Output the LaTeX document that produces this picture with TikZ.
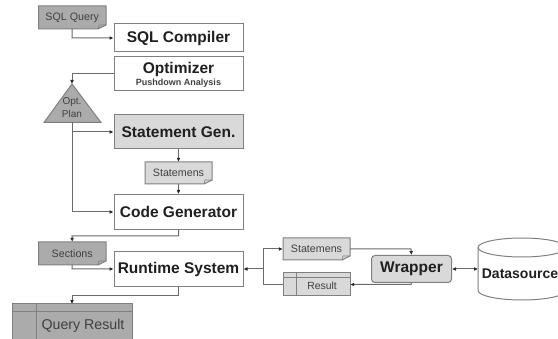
\documentclass[tikz,border=0pt]{standalone}
\usepackage{fontspec}
\setmainfont{Liberation Sans}
\usetikzlibrary{arrows.meta}
\definecolor{ln}{gray}{0.5}
\definecolor{conn}{gray}{0.42}
\definecolor{dark}{gray}{0.67}
\definecolor{lite}{gray}{0.85}
\definecolor{txt}{gray}{0.12}
\definecolor{txtg}{gray}{0.25}
\tikzset{
  x=1pt,y=-1pt,
  tipa/.tip={Latex[length=4pt,width=3.8pt,black!85]},
  boxw/.style={draw=ln,line width=1pt,fill=white,inner sep=0pt,text=txt,font=\bfseries\fontsize{15.5}{17}\selectfont,align=center},
  boxg/.style={boxw,fill=lite},
  lab/.style={inner sep=0pt,text=txtg,font=\fontsize{10.7}{12}\selectfont,align=center},
  shp/.style={draw=ln,line width=1pt,line join=miter},
  anch/.style={inner sep=0pt,draw=none},
  conn/.style={draw=conn,line width=1pt,-tipa},
  connp/.style={draw=conn,line width=1pt},
  conn2/.style={draw=conn,line width=1pt,tipa-tipa},
}
% name, x1, y1, x2, y2, fill, text: sheet with a folded lower right corner
\newcommand{\sheet}[7]{%
  \fill[#6] (#2,#3) -- (#4,#3) -- (#4,#5-4) -- (#4-8,#5) -- (#2,#5) -- cycle;
  \node[lab,minimum width=#4pt-#2pt,minimum height=#5pt-#3pt] (#1) at ({(#2+#4)/2},{(#3+#5)/2}) {#7};
  \draw[shp] (#2,#3) -- (#4,#3) -- (#4,#5-4) -- (#4-8,#5) -- (#2,#5) -- cycle;
  \draw[shp,line width=0.7pt] (#4-8,#5) -- (#4-7,#5-4) -- (#4,#5-4);
}
% name, x1, y1, x2, y2, column x, header y, fill
\newcommand{\tablebox}[8]{%
  \draw[shp,fill=#8] (#2,#3) rectangle (#4,#5);
  \draw[shp] (#6,#3) -- (#6,#5) (#2,#7) -- (#4,#7);
  \node[anch,minimum width=#4pt-#2pt,minimum height=#5pt-#3pt] (#1) at ({(#2+#4)/2},{(#3+#5)/2}) {};
}
\begin{document}
\begin{tikzpicture}
\useasboundingbox (0,0) rectangle (558,339);
\clip (0,0) rectangle (558,339);
\fill[white] (0,0) rectangle (558,339);

\sheet{sqlq}{38.5}{6}{106}{29}{dark}{SQL Query}
\node[boxw,minimum width=129pt,minimum height=28pt] (comp) at (178.5,38) {SQL Compiler};
\node[boxw,minimum width=129pt,minimum height=34.5pt] (opt) at (178.5,73.5) {};
\node[text=txt,font=\bfseries\fontsize{15.5}{17}\selectfont,inner sep=0pt] (optt) at (178.5,69) {Optimizer};
\node[text=txtg,font=\bfseries\fontsize{9}{10}\selectfont,inner sep=0pt] (optp) at (178.5,83.5) {Pushdown Analysis};

\draw[shp,fill=dark] (72,84) -- (101,122.5) -- (44,122.5) -- cycle;
\node[lab,font=\fontsize{10}{13}\selectfont] (plan) at (72,108) {Opt.\\Plan};
\coordinate (planT) at (72,84);
\coordinate (planB) at (72,122.5);

\node[boxg,minimum width=129pt,minimum height=34pt] (stg) at (178.5,132) {Statement Gen.};
\sheet{st1}{145}{162}{212}{184}{lite}{Statemens}
\node[boxw,minimum width=129pt,minimum height=35pt] (code) at (178.5,212) {Code Generator};
\sheet{sec}{38.5}{242}{106}{265}{dark}{Sections}
\node[boxw,minimum width=129pt,minimum height=34.5pt] (run) at (178.5,269) {Runtime System};

\tablebox{qres}{12}{304}{132}{345}{36}{311.5}{dark}
\node[inner sep=0pt,text=txtg,font=\fontsize{14.2}{16}\selectfont] (qrest) at (83,325.5) {Query Result};
\coordinate (qresT) at (72,304);

\sheet{st2}{283}{238}{350}{260}{lite}{Statemens}
\tablebox{res}{283.5}{273}{350}{296}{296.5}{278}{lite}
\node[lab,font=\fontsize{10.4}{12}\selectfont] (rest) at (322,286) {Result};

\node[boxg,rounded corners=3.5pt,minimum width=80pt,minimum height=27pt] (wrap) at (411.5,269) {Wrapper};

% Datasource cylinder
\draw[shp,fill=white] (478,247.5) -- (478,290.5)
  .. controls (478,295.7) and (497.7,300) .. (522,300)
  .. controls (546.3,300) and (566,295.7) .. (566,290.5)
  -- (566,247.5)
  .. controls (566,242.3) and (546.3,238) .. (522,238)
  .. controls (497.7,238) and (478,242.3) .. (478,247.5) -- cycle;
\draw[shp] (478,247.5)
  .. controls (478,252.7) and (497.7,257) .. (522,257)
  .. controls (546.3,257) and (566,252.7) .. (566,247.5);
\node[text=txt,font=\bfseries\fontsize{14}{16}\selectfont,inner sep=0pt] (dst) at (520,274) {Datasource};
\coordinate (dsL) at (478,269);

% connectors
\coordinate (j1) at (72,38);
\coordinate (j2) at (72,73.5);
\coordinate (j3) at (72,212);
\coordinate (j4) at (72,132);
\coordinate (j5) at (263,269);
\coordinate (j6) at (263,284.5);
\coordinate (j7) at (263,249);
\coordinate (j8) at (411,249);
\coordinate (j9) at (411,284.5);
\draw[conn] (sqlq.south) -- (j1) -- (comp.west);
\draw[conn] (opt.west) -- (j2) -- (planT);
\draw[conn] (planB) -- (j3) -- (code.west);
\draw[conn] (j4) -- (stg.west);
\draw[conn] (stg.south) -- (st1.north);
\draw[conn] (st1.south) -- (code.north);
\draw[conn] (code.south) -- (178.5,236) -- (72,236) -- (sec.north);
\draw[conn] (sec.south) -- (72,269) -- (run.west);
\draw[conn] (run.south) -- (178.5,295.5) -- (72,295.5) -- (qresT);
\draw[conn] (j5) -- (run.east);
\draw[connp] (res.west) -- (j6) -- (j7);
\draw[conn] (j7) -- (st2.west);
\draw[conn] (st2.east) -- (j8) -- (wrap.north);
\draw[conn] (wrap.south) -- (j9) -- (res.east);
\draw[conn2] (wrap.east) -- (dsL);
\end{tikzpicture}
\end{document}
